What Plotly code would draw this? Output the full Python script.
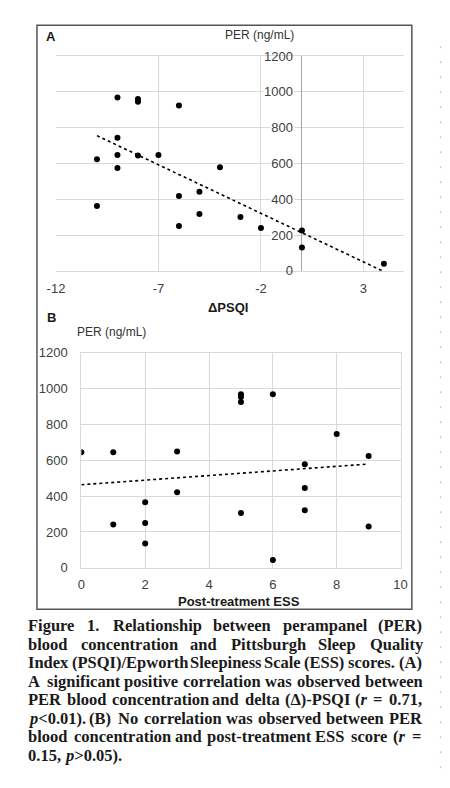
import plotly.graph_objects as go
import numpy as np

# ---------------- data ----------------
psqi_delta = [-9, -8, -8, -6, -9, -10, -9, -8, -7, -9, -4, -6, -5, -10, -5, -6, -3, -2, 0, 0, 4]
per_a = [968, 960, 945, 924, 743, 623, 647, 645, 647, 575, 579, 418, 442, 362, 318, 250, 301, 239, 225, 131, 40]

ess_post = [0, 1, 3, 5, 5, 5, 6, 8, 9, 7, 3, 2, 1, 2, 2, 5, 7, 7, 6, 9]
per_b = [645, 645, 649, 968, 952, 925, 968, 746, 624, 578, 421, 365, 241, 250, 135, 305, 445, 321, 44, 230]

a_xticks = [-12, -7, -2, 3]
a_yticks = [0, 200, 400, 600, 800, 1000, 1200]
b_xticks = [0, 2, 4, 6, 8, 10]
b_yticks = [0, 200, 400, 600, 800, 1000, 1200]

caption_lines = [
    "Figure 1. Relationship between perampanel (PER)",
    "blood concentration and Pittsburgh Sleep Quality",
    "Index (PSQI)/Epworth Sleepiness Scale (ESS) scores. (A)",
    "A significant positive correlation was observed between",
    "PER blood concentration and delta (\u0394)-PSQI (<i>r</i> = 0.71,",
    "<i>p</i>&lt;0.01). (B) No correlation was observed between PER",
    "blood concentration and post-treatment ESS score (<i>r</i> =",
    "0.15, <i>p</i>&gt;0.05).",
]

# ---------------- geometry ----------------
W, H = 450, 788
def px(x):
    return x / W
def py(y):
    return 1 - y / H

A_X = [px(48.7), px(410)]
A_Y = [py(269), py(50)]
B_X = [px(75), px(406)]
B_Y = [py(571.7), py(352.3)]
A_XR = [-12, 5]
A_yaxis_pos = A_X[0] + (0 - A_XR[0]) / (A_XR[1] - A_XR[0]) * (A_X[1] - A_X[0])

GRID = "#d9d9d9"
TICKC = "#404040"
SANS = "Liberation Sans, Arial, sans-serif"
SERIF = "Liberation Serif, Times New Roman, serif"
TFS = 13

fig = go.Figure()

# Panel A
fig.add_trace(go.Scatter(x=psqi_delta, y=per_a, mode="markers",
                         marker=dict(color="black", size=6), xaxis="x", yaxis="y",
                         hoverinfo="skip"))
sa, ia = np.polyfit(psqi_delta, per_a, 1)
xa = np.array([min(psqi_delta), max(psqi_delta)], dtype=float)
fig.add_trace(go.Scatter(x=xa, y=sa * xa + ia, mode="lines",
                         line=dict(color="black", width=1.6, dash="dot"),
                         xaxis="x", yaxis="y", hoverinfo="skip"))

# Panel B
fig.add_trace(go.Scatter(x=ess_post, y=per_b, mode="markers",
                         marker=dict(color="black", size=6), xaxis="x2", yaxis="y2",
                         hoverinfo="skip"))
sb, ib = np.polyfit(ess_post, per_b, 1)
xb = np.array([min(ess_post), max(ess_post)], dtype=float)
fig.add_trace(go.Scatter(x=xb, y=sb * xb + ib, mode="lines",
                         line=dict(color="black", width=1.6, dash="dot"),
                         xaxis="x2", yaxis="y2", hoverinfo="skip"))

tickfont = dict(family=SANS, size=TFS, color=TICKC)

fig.update_layout(
    width=W, height=H,
    margin=dict(l=0, r=0, t=0, b=0),
    paper_bgcolor="white", plot_bgcolor="white",
    showlegend=False,
    xaxis=dict(domain=A_X, range=A_XR, tickvals=a_xticks, ticktext=[str(v) for v in a_xticks],
               anchor="y", showgrid=True, gridcolor=GRID, gridwidth=1,
               zeroline=True, zerolinecolor="#a6a6a6", zerolinewidth=1,
               showline=True, mirror=True, linecolor=GRID, linewidth=1,
               ticks="", tickfont=tickfont, ticklabelstandoff=6, fixedrange=True),
    yaxis=dict(domain=A_Y, range=[0, 1200], tickvals=a_yticks, ticktext=[str(v) for v in a_yticks],
               anchor="free", position=A_yaxis_pos, showgrid=True, gridcolor=GRID, gridwidth=1,
               zeroline=False, showline=False, ticks="", tickfont=tickfont,
               ticklabelstandoff=9, fixedrange=True),
    xaxis2=dict(domain=B_X, range=[0, 10], tickvals=b_xticks, ticktext=[str(v) for v in b_xticks],
                anchor="y2", showgrid=True, gridcolor=GRID, gridwidth=1, zeroline=False,
                showline=True, mirror=True, linecolor=GRID, linewidth=1,
                ticks="", tickfont=tickfont, ticklabelstandoff=5, fixedrange=True),
    yaxis2=dict(domain=B_Y, range=[0, 1200], tickvals=b_yticks, ticktext=[str(v) for v in b_yticks],
                anchor="x2", showgrid=True, gridcolor=GRID, gridwidth=1, zeroline=False,
                showline=True, mirror=True, linecolor=GRID, linewidth=1,
                ticks="", tickfont=tickfont, ticklabelstandoff=10, fixedrange=True),
)

shapes = []
# white backgrounds behind panel-A y tick labels (cover gridlines, like the original)
ppu_x = (A_X[1] - A_X[0]) * W / (A_XR[1] - A_XR[0])
ppu_y = (A_Y[1] - A_Y[0]) * H / 1200
for v in a_yticks:
    wpx = len(str(v)) * 0.556 * TFS + 2
    shapes.append(dict(type="rect", xref="x", yref="y", layer="between",
                       x0=-(9 + wpx) / ppu_x, x1=-8 / ppu_x,
                       y0=v - 6 / ppu_y, y1=v + 6 / ppu_y,
                       fillcolor="white", line=dict(width=0)))
# outer frame
shapes.append(dict(type="rect", xref="paper", yref="paper",
                   x0=px(29), x1=px(417.7), y0=py(614), y1=py(18.5),
                   line=dict(color="#555555", width=1.5), fillcolor="rgba(0,0,0,0)"))
# faint page-edge marks
shapes.append(dict(type="line", xref="paper", yref="paper",
                   x0=px(447.5), x1=px(447.5), y0=py(40), y1=py(788),
                   line=dict(color="#efc58f", width=1.5, dash="2px,13px")))
fig.update_layout(shapes=shapes)

ann = []
def label(text, x, y, size=13, bold=False, xanchor="center", family=SANS, color="#222222"):
    ann.append(dict(text=("<b>%s</b>" % text) if bold else text, x=px(x), y=py(y),
                    xref="paper", yref="paper", xanchor=xanchor, yanchor="middle",
                    showarrow=False, font=dict(family=family, size=size, color=color)))

label("A", 44, 30, size=13, bold=True, color="#1a1a1a")
label("PER (ng/mL)", 260, 29, size=12, color="#333333")
label("\u0394PSQI", 227, 306, size=13, bold=True, color="#1a1a1a")
label("B", 44, 317, size=13, bold=True, color="#1a1a1a")
label("PER (ng/mL)", 106, 331, size=12, color="#333333")
label("Post-treatment ESS", 238, 606, size=13, bold=True, color="#1a1a1a")

# caption: justified text, word by word (initial estimate from Times-Bold metrics,
# refined in the browser from the measured word widths)
TB = {' ': 250, '!': 333, '(': 333, ')': 333, ',': 250, '-': 333, '.': 250, '/': 278,
      '<': 570, '=': 570, '>': 570, '\u0394': 612}
for c in '0123456789':
    TB[c] = 500
TB.update(dict(A=722, B=667, C=722, D=722, E=667, F=611, G=778, H=778, I=389, J=500, K=778,
               L=667, M=944, N=722, O=778, P=611, Q=778, R=722, S=556, T=667, U=722, V=722,
               W=1000, X=722, Y=722, Z=667,
               a=500, b=556, c=444, d=556, e=444, f=333, g=500, h=556, i=278, j=333, k=556,
               l=278, m=833, n=556, o=500, p=556, q=556, r=444, s=389, t=333, u=556, v=500,
               w=722, x=500, y=500, z=444))

def plain(s):
    return s.replace("<i>", "").replace("</i>", "").replace("&lt;", "<").replace("&gt;", ">")

CFS = 16.5
CL, CR = 20, 427
base0, lstep = 636, 18.9
for i, line in enumerate(caption_lines):
    words = line.split(" ")
    widths = [sum(TB.get(c, 500) for c in plain(w_)) / 1000 * CFS for w_ in words]
    last = i == len(caption_lines) - 1
    if last or len(words) < 2:
        gap = 0.25 * CFS
    else:
        gap = (CR - CL - sum(widths)) / (len(words) - 1)
    xcur = CL
    yc = base0 + i * lstep - 5.5
    for j, (w_, wd) in enumerate(zip(words, widths)):
        ann.append(dict(text="<b>%s</b>" % w_, x=px(xcur), y=py(yc), xref="paper", yref="paper",
                        xanchor="left", yanchor="middle", showarrow=False,
                        borderpad=0, borderwidth=0, name="cap%d_%d" % (i, j),
                        font=dict(family=SERIF, size=CFS, color="#1a1a1a")))
        xcur += wd + gap

fig.update_layout(annotations=ann)

post = """
document.documentElement.style.margin='0';
document.body.style.margin='0';
document.documentElement.style.overflow='hidden';
document.body.style.overflow='hidden';
var gd = document.getElementById('{plot_id}');
var anns = gd.layout.annotations || [];
var lines = {};
anns.forEach(function(a, k){
  if (a.name && a.name.indexOf('cap') === 0) {
    var p = a.name.slice(3).split('_');
    var li = +p[0];
    (lines[li] = lines[li] || []).push({k: k, j: +p[1]});
  }
});
var CL = %(CL)s, CR = %(CR)s, W = %(W)s, LAST = %(LAST)s, SP = %(SP)s;
var upd = {};
Object.keys(lines).forEach(function(li){
  var arr = lines[li].sort(function(a, b){ return a.j - b.j; });
  var ws = arr.map(function(o){
    var t = gd.querySelector('.annotation[data-index="' + o.k + '"] text');
    return t ? t.getComputedTextLength() : 0;
  });
  var tot = ws.reduce(function(s, v){ return s + v; }, 0);
  var gap = (+li === LAST || arr.length < 2) ? SP : (CR - CL - tot) / (arr.length - 1);
  var x = CL;
  arr.forEach(function(o, i){ upd['annotations[' + o.k + '].x'] = x / W; x += ws[i] + gap; });
});
Plotly.relayout(gd, upd);
""" % dict(CL=CL, CR=CR, W=W, LAST=len(caption_lines) - 1, SP=0.25 * CFS)

fig.write_html("out.html", post_script=post)
